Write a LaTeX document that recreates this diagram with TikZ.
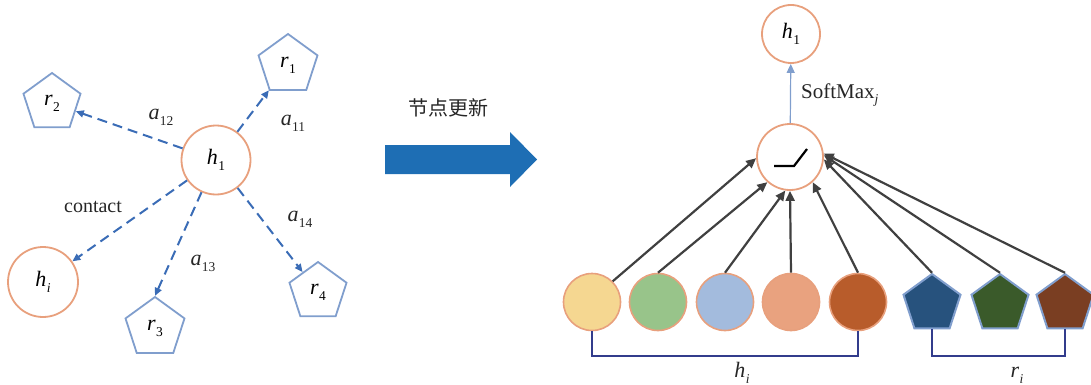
\documentclass[tikz,border=0pt]{standalone}
\usepackage{fontspec}
\setmainfont{Liberation Serif}
\newfontfamily\cjk{Noto Sans CJK SC}
\usetikzlibrary{arrows.meta,shapes.geometric,calc}

\definecolor{ringline}{RGB}{232,160,125}
\definecolor{penline}{RGB}{128,158,205}
\definecolor{dashblue}{RGB}{58,108,182}
\definecolor{flowgray}{RGB}{64,64,64}
\definecolor{bigblue}{RGB}{30,110,180}
\definecolor{barblue}{RGB}{50,60,140}
\definecolor{fyellow}{RGB}{245,215,145}
\definecolor{fgreen}{RGB}{152,196,138}
\definecolor{flblue}{RGB}{163,187,221}
\definecolor{fsalmon}{RGB}{233,162,127}
\definecolor{frust}{RGB}{184,92,43}
\definecolor{pblue}{RGB}{39,82,125}
\definecolor{pgreen}{RGB}{58,90,42}
\definecolor{pbrown}{RGB}{122,62,34}

% italic symbol with a small, lowered index
\newcommand{\symb}[2]{{\itshape #1}\kern0.3pt\raisebox{-0.6ex}{\fontsize{13.5}{13.5}\selectfont #2}}

\tikzset{
  ring/.style={circle, draw=ringline, line width=1.8pt, inner sep=0pt, minimum size=#1, font=\fontsize{22}{22}\selectfont},
  penta/.style={regular polygon, regular polygon sides=5, draw=penline, line width=1.8pt, inner sep=0pt, minimum size=#1, font=\fontsize{22}{22}\selectfont},
  ball/.style={circle, draw=ringline, line width=1.6pt, inner sep=0pt, minimum size=57pt, fill=#1},
  gem/.style={regular polygon, regular polygon sides=5, draw=penline, line width=2pt, inner sep=0pt, minimum size=60pt, fill=#1},
  link/.style={dashblue, line width=2pt, dash pattern=on 10pt off 6pt, -{Triangle[length=8pt,width=7pt]}},
  feed/.style={flowgray, line width=2.2pt, -{Triangle[length=10pt,width=9pt]}},
  bar/.style={barblue, line width=1.8pt},
  lbl/.style={inner sep=0pt, font=\fontsize{20}{20}\selectfont, text=black!85},
  sym/.style={inner sep=0pt, font=\fontsize{22}{22}\selectfont, text=black!85},
}

\begin{document}
\begin{tikzpicture}[x=1pt,y=-1pt]
\useasboundingbox (0,0) rectangle (1091,385);

% ---------- left: neighbourhood of h1 ----------
\node[ring=69pt] (h1) at (216,160) {\symb{h}{1}};
\node[ring=70pt] (hi) at (43,282) {\symb{h}{\itshape i}};
\node[penta=62pt] (r1) at (288,65) {\symb{r}{1}};
\node[penta=60pt] (r2) at (52,103) {\symb{r}{2}};
\node[penta=62pt] (r3) at (155,328) {\symb{r}{3}};
\node[penta=60pt] (r4) at (318,292) {\symb{r}{4}};

\draw[link] (h1) -- (r1);
\draw[link] (h1) -- (r2);
\draw[link] (h1) -- (hi);
\draw[link] (h1) -- (r3.north);
\draw[link] (h1) -- (r4);

\node[sym] (a12) at (161,117) {\symb{a}{12}};
\node[sym] (a11) at (293,123) {\symb{a}{11}};
\node[lbl] (ctc) at (93,207) {contact};
\node[sym] (a14) at (300,219) {\symb{a}{14}};
\node[sym] (a13) at (203,263) {\symb{a}{13}};

% ---------- middle: update arrow ----------
\fill[bigblue] (385,145) -- (510,145) -- (510,132) -- (537,159.5) -- (510,187) -- (510,174) -- (385,174) -- cycle;
\node[lbl, font=\cjk\fontsize{20}{20}\selectfont] (upd) at (448,108) {节点更新};

% ---------- right: attention unit ----------
\node[ring=58pt] (top) at (791,34) {\symb{h}{1}};
\node[ring=66pt] (relu) at (790,157) {};
\draw[line width=2.2pt] ([shift={(-16,9)}]relu.center) -- ([shift={(4,9)}]relu.center) -- ([shift={(17,-8)}]relu.center);
\draw[{Triangle[length=9pt,width=8pt]}-, draw=penline, line width=1.2pt, fill=dashblue] (top) -- (relu);
\node[lbl, anchor=west, font=\fontsize{21}{21}\selectfont] (sm) at (801,95) {SoftMax\raisebox{-0.6ex}{\fontsize{13.5}{13.5}\selectfont\itshape j}};

\node[ball=fyellow] (c1) at (592,302) {};
\node[ball=fgreen]  (c2) at (658,302) {};
\node[ball=flblue]  (c3) at (725,302) {};
\node[ball=fsalmon] (c4) at (791,302) {};
\node[ball=frust]   (c5) at (858,302) {};
\node[gem=pblue]  (p1) at (932,304) {};
\node[gem=pgreen] (p2) at (1000,304) {};
\node[gem=pbrown] (p3) at (1065,304) {};

\draw[feed] (c1.45) -- (relu.182);
\draw[feed] (c2.north) -- (relu.228);
\draw[feed] (c3.north) -- (relu.262);
\draw[feed] (c4.north) -- (relu.270);
\draw[feed] (c5.north) -- (relu.312);
\draw[feed] (p1.corner 1) -- (relu.356);
\draw[feed] (p2.corner 1) -- (relu.3);
\draw[feed] (p3.corner 1) -- (relu.6);

\coordinate (hb) at (725,356);
\coordinate (rb) at (1000,356);
\draw[bar] (c1.south) |- (hb) -| (c5.south);
\draw[bar] (p1.south) |- (rb) -| (p3.south);
\node[sym] (hlab) at (742,373) {\symb{h}{\itshape i}};
\node[sym] (rlab) at (1017,375) {\symb{r}{\itshape i}};
\end{tikzpicture}
\end{document}
